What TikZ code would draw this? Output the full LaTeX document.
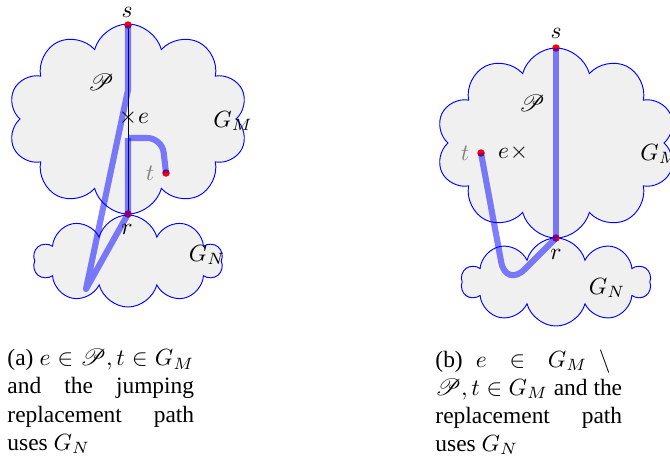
\documentclass[tikz,border=0pt]{standalone}
\usepackage{amssymb}
\usepackage{mathrsfs}
\usepackage{fontspec}
\setmainfont{Liberation Serif}
\usetikzlibrary{shapes.symbols}
\hyphenpenalty=10000
\tikzset{
    graphcloud/.style={cloud, cloud puffs=10, cloud ignores aspect, draw=blue,
        fill=black!6, inner sep=0pt},
    vtx/.style={circle, fill=red, inner sep=0pt, minimum size=3.2pt},
    rpath/.style={blue, opacity=0.5, line width=2.6pt, line join=round},
    caption/.style={anchor=north west, text width=2.8cm, align=justify, inner sep=0pt},
}
\begin{document}
\begin{tikzpicture}[x=0.015cm,y=-0.015cm]
    \useasboundingbox (0,0) rectangle (670,465);

    % (a) the path P is jumped over through G_N
    \node[graphcloud, minimum width=3.6cm, minimum height=2.85cm] (GMa) at (128,119) {};
    \node[graphcloud, minimum width=2.84cm, minimum height=1.38cm] (GNa) at (128,261) {};
    \coordinate (sa) at (128,25);
    \coordinate (ra) at (128,214);
    \coordinate (ta) at (166,173);
    \coordinate (ja) at (128,90);
    \coordinate (ba) at (86,289);
    \coordinate (ka) at (128,138);
    \coordinate (ca) at (162,138);
    \draw[thin] (sa) -- (ra);
    \node[vtx] (sa dot) at (sa) {};
    \node[vtx] (ra dot) at (ra) {};
    \node[vtx] (ta dot) at (ta) {};
    \draw[rpath] (sa) -- (ja) -- (ba) -- (ra) -- (ka);
    \draw[rpath, rounded corners=0.22cm] (ka) -- (ca) -- (ta);
    \node[inner sep=1pt] (sa lbl) at (127,12) {$s$};
    \node (ra lbl) at (127,229) {$r$};
    \node[black!50] (ta lbl) at (150,173) {$t$};
    \node (Pa lbl) at (101,82) {$\mathscr{P}$};
    \node[inner sep=0pt] (ea mark) at (128,118) {$\times$};
    \node[anchor=west, inner sep=0pt] (ea lbl) at (ea mark.east) {$e$};
    \node (GMa lbl) at (233,121) {$G_M$};
    \node (GNa lbl) at (207,255) {$G_N$};
    \node[caption] (capa) at (7,349)
        {(a) $e \in \mathscr{P}, t \in G_M$ and the jumping replacement path uses $G_N$};

    % (b) e lies off the path P
    \node[graphcloud, minimum width=3.6cm, minimum height=2.85cm] (GMb) at (556,143) {};
    \node[graphcloud, minimum width=2.84cm, minimum height=1.32cm] (GNb) at (556,282) {};
    \coordinate (sb) at (556,48);
    \coordinate (rb) at (556,238);
    \coordinate (tb) at (481,153);
    \coordinate (bb) at (506,288);
    \node[vtx] (sb dot) at (sb) {};
    \node[vtx] (rb dot) at (rb) {};
    \node[vtx] (tb dot) at (tb) {};
    \draw[rpath] (sb) -- (rb);
    \draw[rpath, rounded corners=0.4cm] (tb) -- (bb) -- (rb);
    \node (sb lbl) at (556,33) {$s$};
    \node (rb lbl) at (556,254) {$r$};
    \node[black!50] (tb lbl) at (465,153) {$t$};
    \node (Pb lbl) at (532,103) {$\mathscr{P}$};
    \node[inner sep=0pt] (eb mark) at (519,153) {$\times$};
    \node[anchor=east, inner sep=0pt] (eb lbl) at (eb mark.west) {$e$};
    \node (GMb lbl) at (660,154) {$G_M$};
    \node (GNb lbl) at (607,288) {$G_N$};
    \node[caption] (capb) at (435,349)
        {(b) $e \in G_M \setminus{}$\linebreak $\mathscr{P}, t \in G_M$ and the replacement path uses $G_N$};
\end{tikzpicture}
\end{document}
